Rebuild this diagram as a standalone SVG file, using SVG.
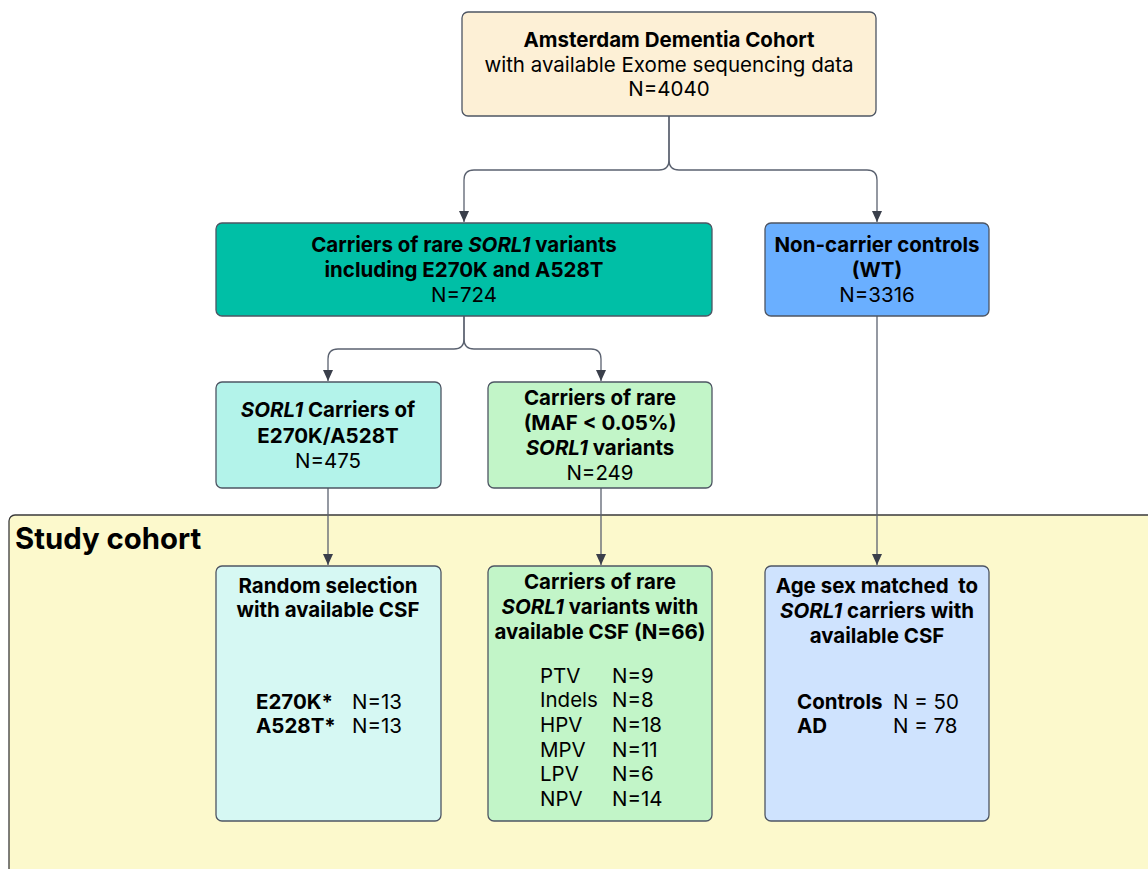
<svg xmlns="http://www.w3.org/2000/svg" width="1148" height="869" viewBox="0 0 1148 869">
<defs>
<marker id="ah" markerWidth="12" markerHeight="10" refX="11" refY="5" orient="auto" markerUnits="userSpaceOnUse">
<path d="M0,0 L11,5 L0,10 Z" fill="#3a3f4b"/>
</marker>
<style>
.box{stroke:#4d5563;stroke-width:1.3}
.t{font-family:Inter,"Liberation Sans",sans-serif;font-size:20.5px;fill:#000;text-anchor:middle}
.b{font-weight:bold}
.l{text-anchor:start}
.c{fill:none;stroke:#5b6270;stroke-width:1.3;marker-end:url(#ah)}
</style>
</defs>
<rect width="1148" height="869" fill="#fff"/>
<g id="study-cohort">
<rect x="9" y="515" width="1150" height="370" rx="6" fill="#fcf9cc" stroke="#3a3a3a" stroke-width="1.3"/>
<text x="15" y="549" style="font-family:Inter,'Liberation Sans',sans-serif;font-size:29.3px;font-weight:bold">Study cohort</text>
</g>
<g id="connectors">
<path class="c" d="M669,116 V160 Q669,170 659,170 H474 Q464,170 464,180 V222"/>
<path class="c" d="M669,116 V160 Q669,170 679,170 H867 Q877,170 877,180 V222"/>
<path class="c" d="M464,316 V339 Q464,349 454,349 H338 Q328,349 328,359 V381"/>
<path class="c" d="M464,316 V339 Q464,349 474,349 H591 Q601,349 601,359 V381"/>
<path class="c" d="M328,488 V565"/>
<path class="c" d="M601,488 V565"/>
<path class="c" d="M877,316 V565"/>
</g>
<g id="adc">
<rect class="box" x="462" y="12" width="414" height="104" rx="6" fill="#fdf0d6"/>
<text class="t b" x="669" y="47">Amsterdam Dementia Cohort</text>
<text class="t" x="669" y="72">with available Exome sequencing data</text>
<text class="t" x="669" y="96">N=4040</text>
</g>
<g id="carriers">
<rect class="box" x="216" y="223" width="496" height="93" rx="6" fill="#00bfa6"/>
<text class="t b" x="464" y="252">Carriers of rare <tspan font-style="italic">SORL1</tspan> variants</text>
<text class="t b" x="464" y="277">including E270K and A528T</text>
<text class="t" x="464" y="302">N=724</text>
</g>
<g id="noncarriers">
<rect class="box" x="765" y="223" width="224" height="93" rx="6" fill="#6aafff"/>
<text class="t b" x="877" y="252">Non-carrier controls</text>
<text class="t b" x="877" y="277">(WT)</text>
<text class="t" x="877" y="302">N=3316</text>
</g>
<g id="e270k-a528t">
<rect class="box" x="216" y="382" width="225" height="106" rx="6" fill="#b3f3ea"/>
<text class="t b" x="328" y="417"><tspan font-style="italic">SORL1</tspan> Carriers of</text>
<text class="t b" x="328" y="443">E270K/A528T</text>
<text class="t" x="328" y="468">N=475</text>
</g>
<g id="rare">
<rect class="box" x="488" y="382" width="224" height="106" rx="6" fill="#c2f5c8"/>
<text class="t b" x="600" y="405">Carriers of rare</text>
<text class="t b" x="600" y="430">(MAF &lt; 0.05%)</text>
<text class="t b" x="600" y="455"><tspan font-style="italic">SORL1</tspan> variants</text>
<text class="t" x="600" y="480">N=249</text>
</g>
<g id="random">
<rect class="box" x="216" y="566" width="225" height="255" rx="6" fill="#d6f8f3"/>
<text class="t b" x="328" y="593">Random selection</text>
<text class="t b" x="328" y="617">with available CSF</text>
<text class="t b l" x="256" y="709">E270K*</text>
<text class="t l" x="352" y="709">N=13</text>
<text class="t b l" x="256" y="733">A528T*</text>
<text class="t l" x="352" y="733">N=13</text>
</g>
<g id="rare-csf">
<rect class="box" x="488" y="566" width="224" height="255" rx="6" fill="#c2f5c8"/>
<text class="t b" x="600" y="589">Carriers of rare</text>
<text class="t b" x="600" y="614"><tspan font-style="italic">SORL1</tspan> variants with</text>
<text class="t b" x="600" y="639">available CSF (N=66)</text>
<text class="t l" x="540" y="683">PTV</text><text class="t l" x="612" y="683">N=9</text>
<text class="t l" x="540" y="707">Indels</text><text class="t l" x="612" y="707">N=8</text>
<text class="t l" x="540" y="732">HPV</text><text class="t l" x="612" y="732">N=18</text>
<text class="t l" x="540" y="757">MPV</text><text class="t l" x="612" y="757">N=11</text>
<text class="t l" x="540" y="781">LPV</text><text class="t l" x="612" y="781">N=6</text>
<text class="t l" x="540" y="806">NPV</text><text class="t l" x="612" y="806">N=14</text>
</g>
<g id="matched">
<rect class="box" x="765" y="566" width="224" height="255" rx="6" fill="#cfe3fe"/>
<text class="t b" x="877" y="593" xml:space="preserve">Age sex matched  to</text>
<text class="t b" x="877" y="618"><tspan font-style="italic">SORL1</tspan> carriers with</text>
<text class="t b" x="877" y="643">available CSF</text>
<text class="t b l" x="797" y="709">Controls</text>
<text class="t l" x="893" y="709">N = 50</text>
<text class="t b l" x="797" y="733">AD</text>
<text class="t l" x="893" y="733">N = 78</text>
</g>
</svg>
